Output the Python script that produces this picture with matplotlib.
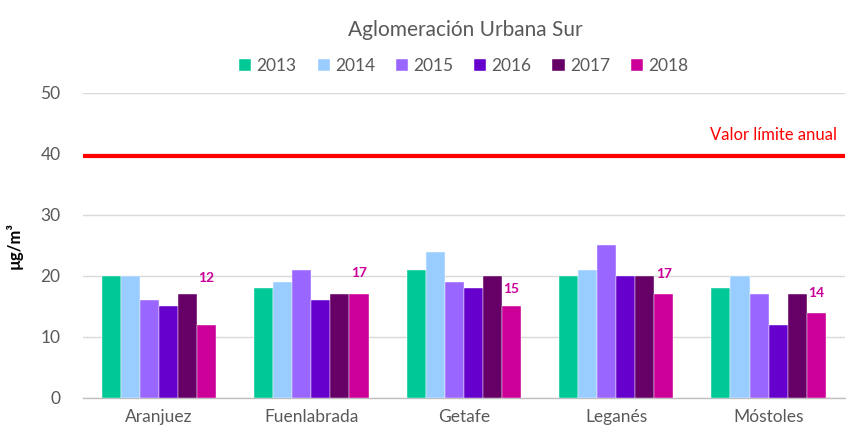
import matplotlib
matplotlib.use("Agg")
import matplotlib.pyplot as plt
import numpy as np

plt.rcParams['font.family'] = ['Lato', 'DejaVu Sans']

categories = ["Aranjuez", "Fuenlabrada", "Getafe", "Leganés", "Móstoles"]
years = ["2013", "2014", "2015", "2016", "2017", "2018"]
values = {
    "2013": [20, 18, 21, 20, 18],
    "2014": [20, 19, 24, 21, 20],
    "2015": [16, 21, 19, 25, 17],
    "2016": [15, 16, 18, 20, 12],
    "2017": [17, 17, 20, 20, 17],
    "2018": [12, 17, 15, 17, 14],
}
colors = ["#00C896", "#99CCFF", "#9966FF", "#6600CC", "#660066", "#CC0099"]
limit_value = 39.6
limit_label = "Valor límite anual"
label_offsets = [47, 21, 17, 20, 20]  # pixels above bar top for 2018 labels

fig = plt.figure(figsize=(8.49, 4.34), dpi=100)
ax = fig.add_axes([0.0975, 0.083, 0.8975, 0.703])

x = np.arange(len(categories))
n = len(years)
group_w = 0.75
bw = group_w / n
for i, (yr, c) in enumerate(zip(years, colors)):
    pos = x - group_w / 2 + bw * (i + 0.5)
    ax.bar(pos, values[yr], width=bw, color=c, label=yr, zorder=3,
           edgecolor='white', linewidth=0.3)
    if yr == "2018":
        for p, v, off in zip(pos, values[yr], label_offsets):
            ax.annotate(str(v), (p, v), xytext=(0, off * 0.72), textcoords='offset points',
                        ha='center', va='center', color=c, fontsize=10, fontweight='bold')

ax.axhline(limit_value, color='#FF0000', lw=3, zorder=4)
ax.text(0.99, 43.1, limit_label, transform=ax.get_yaxis_transform(), ha='right', va='center',
        color='#FF0000', fontsize=12)

ax.set_ylim(0, 50)
ax.set_xlim(-0.5, len(categories) - 0.5)
ax.set_yticks(range(0, 51, 10))
ax.set_xticks(x)
ax.set_xticklabels(categories)
ax.tick_params(axis='both', length=0, colors='#595959', labelsize=12.5)
ax.tick_params(axis='x', pad=8)
ax.tick_params(axis='y', pad=16)
ax.grid(axis='y', color='#D9D9D9', lw=1, zorder=0)
for s in ['top', 'right', 'left']:
    ax.spines[s].set_visible(False)
ax.spines['bottom'].set_color('#BFBFBF')
ax.spines['bottom'].set_linewidth(1)

ax.set_ylabel("µg/m³", fontsize=12, fontweight='bold', color='black', labelpad=13)

fig.suptitle("Aglomeración Urbana Sur", x=0.5475, y=0.955, fontsize=15, color='#595959')
ax.legend(loc='lower center', bbox_to_anchor=(0.5, 1.01), ncol=6, frameon=False,
          fontsize=12.5, handlelength=0.7, handleheight=0.7, handletextpad=0.3,
          columnspacing=1.2, labelcolor='#595959')

fig.savefig("out.png", dpi=100)
